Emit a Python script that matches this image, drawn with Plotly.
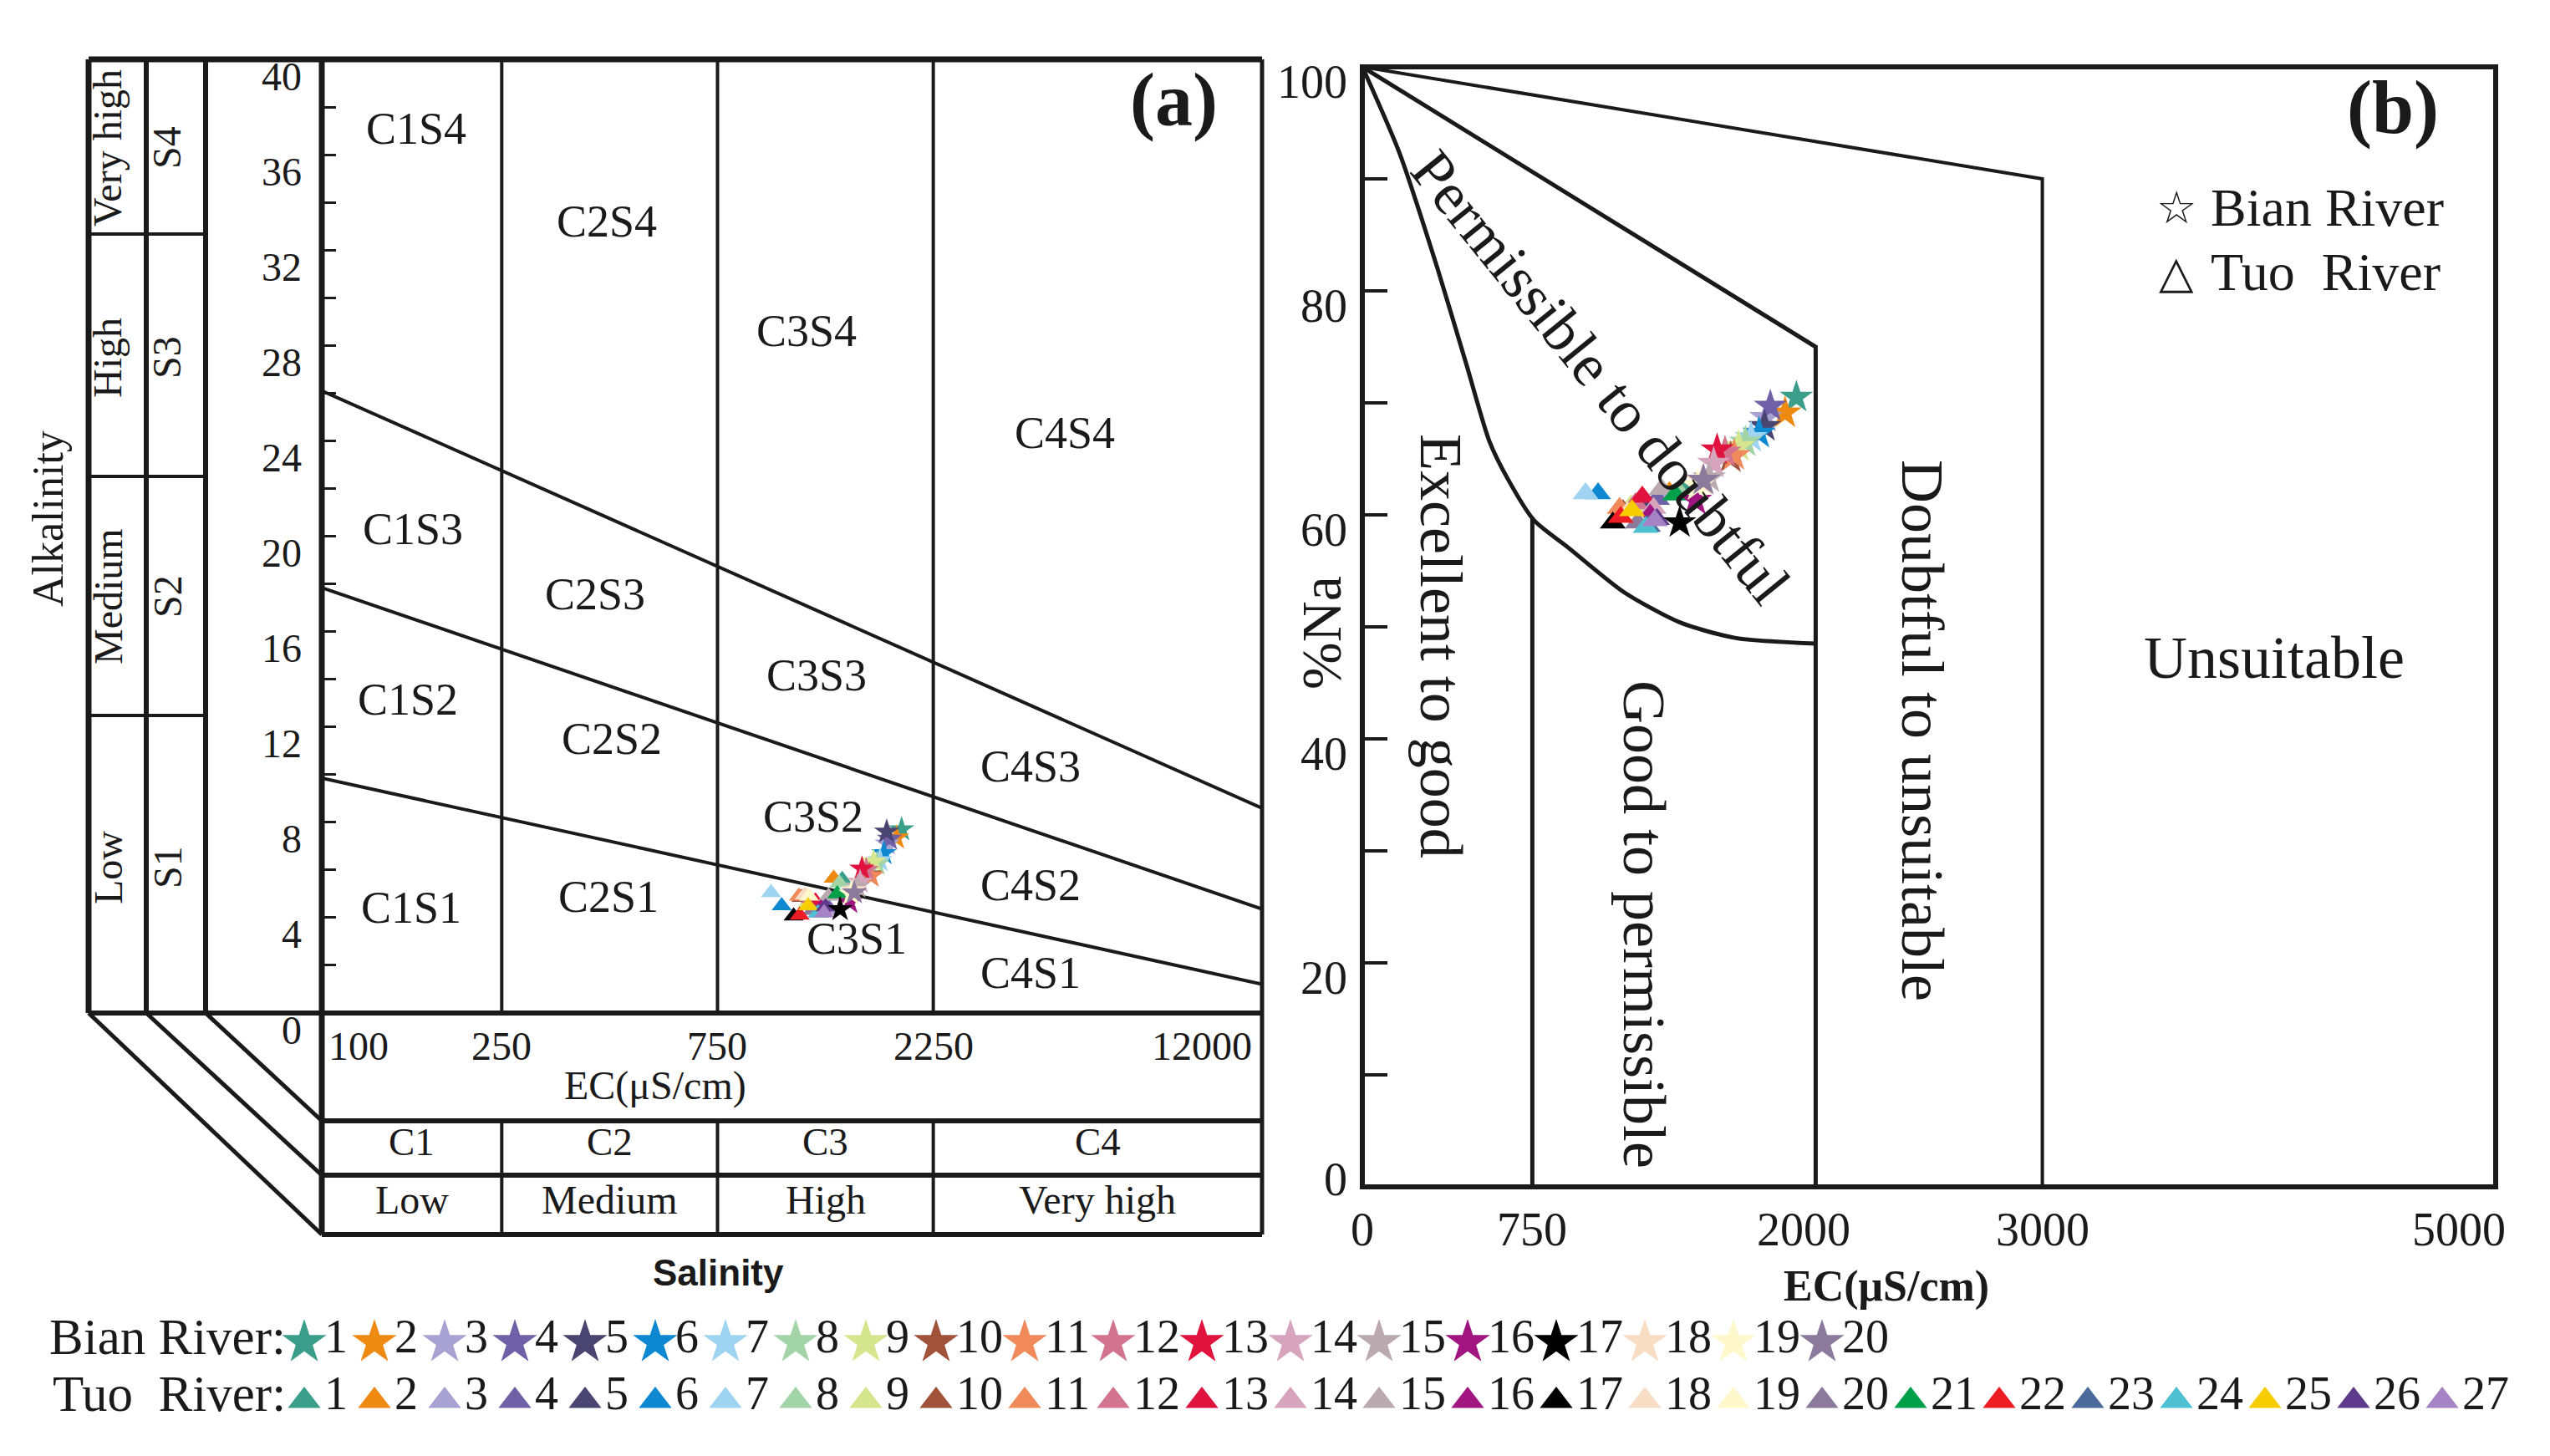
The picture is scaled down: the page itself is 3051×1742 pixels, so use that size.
import numpy as np
import plotly.graph_objects as go

W, H = 3051, 1742

# ---------------- data ----------------
colors = ["#3A9E8A", "#EE8A12", "#A8A2D2", "#7060A8", "#4A4570", "#0E88D0", "#9ED4F2",
          "#A3D4A8", "#D6E68E", "#A0533A", "#F08A5A", "#D27490", "#E0123E", "#D6A4BC",
          "#BBA9B0", "#A0157F", "#000000", "#F9DCC4", "#FFF8CC", "#8C7A9C", "#00A04A",
          "#EE1C24", "#4B6A9C", "#4EC0D2", "#F7CD00", "#5E3B8C", "#A683C4"]

bian_ids = list(range(1, 21))
bian_ec = [1915, 1865, 1780, 1800, 1775, 1750, 1715, 1690, 1660, 1625,
           1640, 1600, 1565, 1550, 1530, 1470, 1400, 1500, 1480, 1505]
bian_sar = [7.70, 7.35, 7.10, 7.30, 7.60, 6.70, 6.40, 6.25, 6.35, 5.80,
            5.75, 6.00, 6.05, 5.50, 5.30, 4.65, 4.35, 5.15, 5.00, 5.05]
bian_na = [70.5, 69.1, 68.7, 69.7, 67.9, 67.3, 66.9, 66.5, 66.1, 65.1,
           65.3, 65.6, 65.8, 64.6, 63.3, 61.3, 59.3, 63.0, 62.6, 63.1]

tuo_ids = list(range(1, 28))
tuo_ec = [1415, 1355, 1330, 1300, 1255, 1040, 985, 1395, 1185, 1150, 1135, 1205, 1235, 1285,
          1320, 1270, 1105, 1170, 1195, 1215, 1380, 1140, 1260, 1250, 1190, 1300, 1290]
tuo_sar = [5.60, 5.65, 4.30, 4.60, 4.45, 4.50, 5.05, 5.45, 4.60, 4.85, 4.90, 4.80, 4.70, 4.30,
           4.90, 4.40, 4.07, 4.95, 4.90, 4.30, 5.00, 4.10, 4.20, 4.20, 4.50, 4.45, 4.20]
tuo_na = [62.3, 62.0, 61.9, 61.4, 61.0, 61.9, 61.9, 62.1, 60.8, 60.4, 60.6, 61.0, 61.6, 60.6,
          62.3, 60.0, 59.3, 60.2, 60.0, 59.3, 61.8, 59.8, 59.0, 58.9, 60.4, 59.6, 59.5]

# USSL diagram (a)
ussl_ec_ends = [100, 12000]
ussl_s1s2 = [9.85, 1.21]
ussl_s2s3 = [17.84, 4.36]
ussl_s3s4 = [26.1, 8.59]
ussl_c_bounds = [250, 750, 2250]
ec_ticks_a = [100, 250, 750, 2250, 12000]
sar_ticks = [0, 4, 8, 12, 16, 20, 24, 28, 32, 36, 40]
c_classes = ["C1", "C2", "C3", "C4"]
c_names = ["Low", "Medium", "High", "Very high"]

# Wilcox diagram (b)
wil_curve_ec = [0, 166, 330, 461, 560, 642, 758, 907, 1154, 1401, 1648, 2000]
wil_curve_na = [100, 92.2, 82.1, 73.3, 66.6, 63.2, 59.5, 57.1, 53.1, 50.4, 49.0, 48.5]
wil_top_ec = [0, 3000, 3000]
wil_top_na = [100, 90, 0]
wil_mid_ec = [0, 2000, 2000]
wil_mid_na = [100, 75, 0]
wil_750_ec = [750, 750]
wil_750_na = [59.8, 0]
ec_ticks_b = [0, 750, 2000, 3000, 5000]
na_ticks = [0, 20, 40, 60, 80, 100]

# ---------------- helpers ----------------
SERIF = "Liberation Serif"
INK = "#1a1a1a"


def P(x):
    return x / W


def Q(y):
    return 1 - y / H


shapes = []


def seg(x0, y0, x1, y1, w=4):
    shapes.append(dict(type="line", xref="paper", yref="paper",
                       x0=P(x0), y0=Q(y0), x1=P(x1), y1=Q(y1),
                       line=dict(color=INK, width=w)))


annotations = []


def txt(x, y, s, size, xref="paper", yref="paper", angle=0, bold=False,
        xanchor="center", yanchor="middle", family=SERIF, xshift=0, yshift=0):
    if xref == "paper":
        x = P(x)
    if yref == "paper":
        y = Q(y)
    if bold:
        s = "<b>" + s + "</b>"
    # compensate for the baseline offset of 'middle'-anchored text
    if angle == 0:
        yshift += 9
    elif angle == -90:
        xshift -= 11
    annotations.append(dict(x=x, y=y, xref=xref, yref=yref, text=s, showarrow=False,
                            textangle=angle, xanchor=xanchor, yanchor=yanchor,
                            xshift=xshift, yshift=yshift,
                            font=dict(family=family, size=size, color=INK)))


# panel geometry (pixels)
AX0, AX1, AY0, AY1 = 377, 1502, 63, 1204       # panel a plot box
BX0, BX1, BY0, BY1 = 1622, 2978, 72, 1412      # panel b plot box

fig = go.Figure()

# ---------------- panel (a) ----------------
for arr in (ussl_s1s2, ussl_s2s3, ussl_s3s4):
    fig.add_trace(go.Scatter(x=ussl_ec_ends, y=arr, mode="lines", xaxis="x", yaxis="y",
                             line=dict(color=INK, width=4), hoverinfo="skip", showlegend=False))
for c in ussl_c_bounds:
    fig.add_trace(go.Scatter(x=[c, c], y=[0, 40], mode="lines", xaxis="x", yaxis="y",
                             line=dict(color=INK, width=4), hoverinfo="skip", showlegend=False))

fig.add_trace(go.Scatter(x=tuo_ec, y=tuo_sar, mode="markers", xaxis="x", yaxis="y",
                         marker=dict(symbol="triangle-up", size=21, color=colors[:27],
                                     line=dict(width=0)),
                         name="Tuo River", showlegend=False))
fig.add_trace(go.Scatter(x=bian_ec, y=bian_sar, mode="markers", xaxis="x", yaxis="y",
                         marker=dict(symbol="star", size=23, color=colors[:20],
                                     line=dict(width=0)),
                         name="Bian River", showlegend=False))

# frame of (a)
LX1, LX2, LX3 = 98, 167, 238
TB1, TB2, TB3 = 1333, 1398, 1469
seg(LX1, AY0, AX1, AY0, 7)            # top
seg(AX1, AY0, AX1, TB3, 5)            # right
seg(LX1, AY1, AX1, AY1, 6)            # bottom of plot box
seg(LX1, AY0, LX1, AY1, 7)
seg(LX2, AY0, LX2, AY1, 6)
seg(LX3, AY0, LX3, AY1, 6)
seg(AX0, AY0, AX0, TB3, 7)            # left of plot box / table
for yy in (272, 562, 848):
    seg(LX1, yy, LX3, yy, 4)
for yy in (TB1, TB2, TB3):
    seg(AX0, yy, AX1, yy, 6)
seg(LX1, AY1, AX0, TB3, 5)
seg(LX2, AY1, AX0, TB2, 5)
seg(LX3, AY1, AX0, TB1, 5)

# table vertical lines at C boundaries (data x)
for c in ussl_c_bounds:
    shapes.append(dict(type="line", xref="x", yref="paper", x0=c, x1=c,
                       y0=Q(TB1), y1=Q(TB3), line=dict(color=INK, width=4)))

# tick labels (a)
for v in sar_ticks:
    txt(355, v, str(v), 48, yref="y", xanchor="right", yshift=-29)
for v in ec_ticks_a:
    xa = "center"
    xs = 0
    if v == ec_ticks_a[0]:
        xa, xs = "left", 6
    elif v == ec_ticks_a[-1]:
        xa, xs = "right", -10
    txt(np.log10(v), 1252, str(v), 48, xref="x", xanchor=xa, xshift=xs)
txt(776, 1300, "EC(μS/cm)", 48)

# table labels
c_lo = [100] + ussl_c_bounds
c_hi = ussl_c_bounds + [12000]
for lo, hi, s1, s2 in zip(c_lo, c_hi, c_classes, c_names):
    cm = (np.log10(lo) + np.log10(hi)) / 2
    txt(cm, 1367, s1, 47, xref="x")
    txt(cm, 1436, s2, 48, xref="x")
txt(851, 1523, "Salinity", 44, bold=True, family="Liberation Sans")

# left columns
for yc, a, b in [(169, "Very high", "S4"), (420, "High", "S3"), (706, "Medium", "S2"), (1030, "Low", "S1")]:
    txt(132, yc, a, 48, angle=-90)
    txt(203, yc, b, 48, angle=-90)
txt(60, 612, "Alkalinity", 52, angle=-90)

# class labels inside (a)
for x, y, s in [(490, 155, "C1S4"), (718, 266, "C2S4"), (957, 397, "C3S4"), (1266, 519, "C4S4"),
                (486, 634, "C1S3"), (704, 712, "C2S3"), (969, 809, "C3S3"), (1225, 918, "C4S3"),
                (480, 838, "C1S2"), (724, 885, "C2S2"), (965, 978, "C3S2"), (1225, 1060, "C4S2"),
                (484, 1087, "C1S1"), (720, 1074, "C2S1"), (1017, 1124, "C3S1"), (1225, 1165, "C4S1")]:
    txt(x, y, s, 54)
txt(1396, 121, "(a)", 90, bold=True)

# ---------------- panel (b) ----------------
fig.add_trace(go.Scatter(x=wil_top_ec, y=wil_top_na, mode="lines", xaxis="x2", yaxis="y2",
                         line=dict(color=INK, width=4), hoverinfo="skip", showlegend=False))
fig.add_trace(go.Scatter(x=wil_mid_ec, y=wil_mid_na, mode="lines", xaxis="x2", yaxis="y2",
                         line=dict(color=INK, width=5), hoverinfo="skip", showlegend=False))
fig.add_trace(go.Scatter(x=wil_curve_ec, y=wil_curve_na, mode="lines", xaxis="x2", yaxis="y2",
                         line=dict(color=INK, width=5, shape="spline", smoothing=0.7),
                         hoverinfo="skip", showlegend=False))
fig.add_trace(go.Scatter(x=wil_750_ec, y=wil_750_na, mode="lines", xaxis="x2", yaxis="y2",
                         line=dict(color=INK, width=5), hoverinfo="skip", showlegend=False))

fig.add_trace(go.Scatter(x=tuo_ec, y=tuo_na, mode="markers", xaxis="x2", yaxis="y2",
                         marker=dict(symbol="triangle-up", size=27, color=colors[:27],
                                     line=dict(width=0)),
                         name="Tuo River", showlegend=False))
fig.add_trace(go.Scatter(x=bian_ec, y=bian_na, mode="markers", xaxis="x2", yaxis="y2",
                         marker=dict(symbol="star", size=30, color=colors[:20],
                                     line=dict(width=0)),
                         name="Bian River", showlegend=False))

shapes.append(dict(type="rect", xref="paper", yref="paper", x0=P(BX0), x1=P(BX1),
                   y0=Q(BY1), y1=Q(BY0), line=dict(color=INK, width=6)))

for v in na_ticks:
    txt(1606, v, str(v), 56, yref="y2", xanchor="right", yshift=-27 if v > 0 else 0)
for v in ec_ticks_b:
    xa, xs = "center", 0
    if v == 5000:
        xa, xs = "right", 14
    elif v == 2000:
        xs = -14
    txt(v, 1472, str(v), 56, xref="x2", xanchor=xa, xshift=xs)
txt(2249, 1540, "EC(μS/cm)", 52, bold=True)
txt(1578, 749, "%Na", 68, angle=-90, xshift=6)

txt(1907, 443, "Permissible to doubtful", 72, angle=51)
txt(1716, 765, "Excellent to good", 72, angle=90)
txt(1959, 1098, "Good to permissible", 72, angle=90)
txt(2292, 866, "Doubtful to unsuitable", 72, angle=90)
txt(2713, 788, "Unsuitable", 72)
txt(2855, 130, "(b)", 90, bold=True)
txt(2596, 250, "☆", 54, family="DejaVu Sans")
txt(2635, 250, "Bian River", 64, xanchor="left")
txt(2596, 327, "△", 54, family="DejaVu Sans")
txt(2635, 327, "Tuo\u00a0\u00a0River", 64, xanchor="left")

# ---------------- bottom legend ----------------
leg_x = []
xx = 356
for i in range(1, 28):
    leg_x.append(xx)
    xx += 84 if i < 10 else 106
ROW_B, ROW_T = 1600, 1668
fig.add_trace(go.Scatter(x=leg_x[:20], y=[ROW_B - 2] * 20, mode="markers", xaxis="x3", yaxis="y3",
                         marker=dict(symbol="star", size=40, color=colors[:20], line=dict(width=0)),
                         hoverinfo="skip", showlegend=False))
fig.add_trace(go.Scatter(x=leg_x[:27], y=[ROW_T] * 27, mode="markers", xaxis="x3", yaxis="y3",
                         marker=dict(symbol="triangle-up", size=34, color=colors[:27], line=dict(width=0)),
                         hoverinfo="skip", showlegend=False))
txt(336, ROW_B, "Bian River:", 61, xanchor="right")
txt(336, ROW_T, "Tuo\u00a0\u00a0River:", 61, xanchor="right")
for i, n in enumerate(bian_ids):
    txt(leg_x[i] + 22, ROW_B, str(n), 56, xanchor="left")
for i, n in enumerate(tuo_ids):
    txt(leg_x[i] + 22, ROW_T, str(n), 56, xanchor="left")

# ---------------- layout ----------------
hidden = dict(showgrid=False, zeroline=False, showticklabels=False, showline=False, ticks="")
fig.update_layout(
    width=W, height=H, margin=dict(l=0, r=0, t=0, b=0),
    paper_bgcolor="white", plot_bgcolor="rgba(0,0,0,0)",
    showlegend=False,
    xaxis=dict(hidden, type="log", range=[np.log10(100), np.log10(12000)],
               domain=[P(AX0), P(AX1)], anchor="y"),
    yaxis=dict(showgrid=False, zeroline=False, showticklabels=False, showline=False,
               range=[0, 40], domain=[Q(AY1), Q(AY0)], anchor="x",
               ticks="inside", tickvals=list(range(2, 40, 2)), ticklen=17, tickwidth=3,
               tickcolor=INK),
    xaxis2=dict(hidden, range=[0, 5000], domain=[P(BX0), P(BX1)], anchor="y2"),
    yaxis2=dict(showgrid=False, zeroline=False, showticklabels=False, showline=False,
                range=[0, 100], domain=[Q(BY1), Q(BY0)], anchor="x2",
                ticks="inside", tickvals=list(range(10, 100, 10)), ticklen=30, tickwidth=4,
                tickcolor=INK),
    xaxis3=dict(hidden, range=[0, W], domain=[0, 1], anchor="y3"),
    yaxis3=dict(hidden, range=[H, 0], domain=[0, 1], anchor="x3"),
    shapes=shapes,
    annotations=annotations,
)

fig.write_html("out.html")
